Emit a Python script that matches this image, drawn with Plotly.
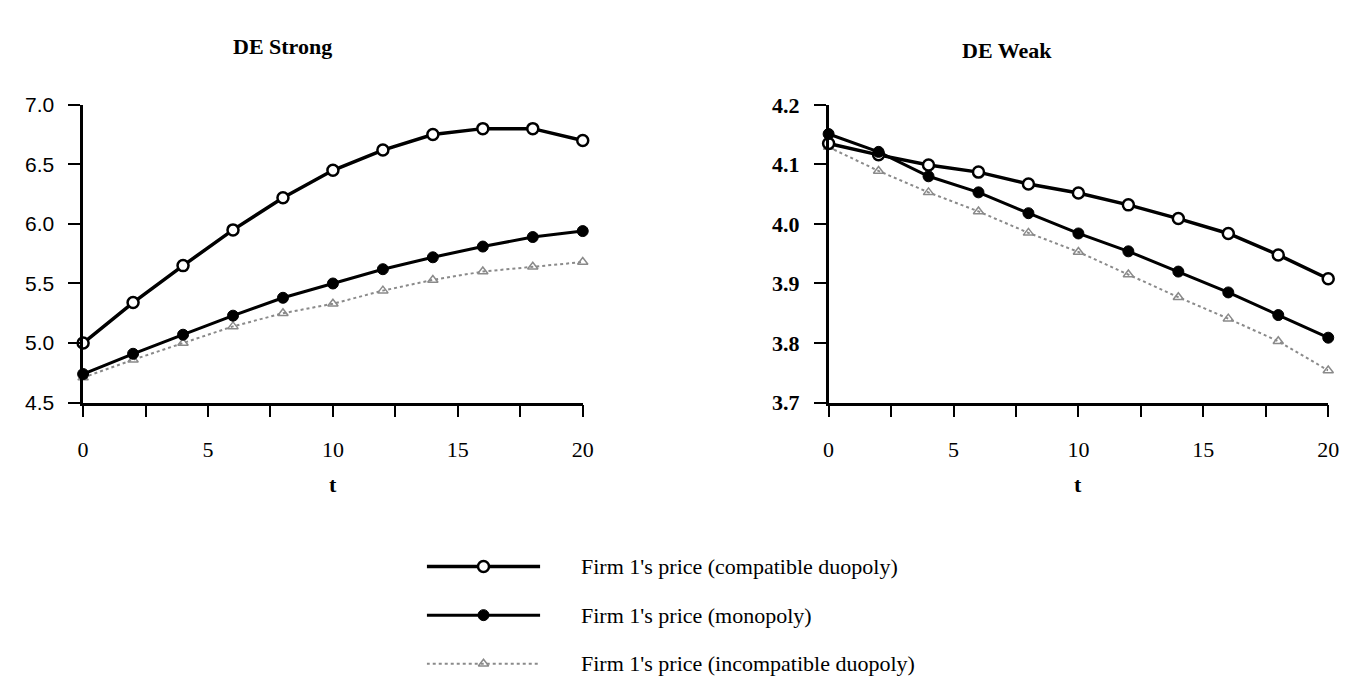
import plotly.graph_objects as go

# ---- data ----
t = [0, 2, 4, 6, 8, 10, 12, 14, 16, 18, 20]

strong_compatible = [5.00, 5.34, 5.65, 5.95, 6.22, 6.45, 6.62, 6.75, 6.80, 6.80, 6.70]
strong_monopoly = [4.74, 4.91, 5.07, 5.23, 5.38, 5.50, 5.62, 5.72, 5.81, 5.89, 5.94]
strong_incompatible = [4.71, 4.86, 5.00, 5.14, 5.25, 5.33, 5.44, 5.53, 5.60, 5.64, 5.68]

weak_compatible = [4.135, 4.116, 4.099, 4.087, 4.067, 4.052, 4.032, 4.009, 3.984, 3.948, 3.908]
weak_monopoly = [4.151, 4.121, 4.080, 4.053, 4.018, 3.984, 3.954, 3.920, 3.885, 3.847, 3.809]
weak_incompatible = [4.129, 4.089, 4.053, 4.021, 3.985, 3.953, 3.915, 3.877, 3.841, 3.803, 3.754]

series_names = [
    "Firm 1's price (compatible duopoly)",
    "Firm 1's price (monopoly)",
    "Firm 1's price (incompatible duopoly)",
]
panel_titles = ["DE Strong", "DE Weak"]
x_tick_vals = [0, 5, 10, 15, 20]
strong_y_ticks = [4.5, 5.0, 5.5, 6.0, 6.5, 7.0]
weak_y_ticks = [3.7, 3.8, 3.9, 4.0, 4.1, 4.2]

# ---- styles ----
SERIF = "Liberation Serif"
GRAY = "#8a8a8a"
styles = [
    dict(line=dict(color="black", width=3.5),
         marker=dict(symbol="circle", size=11, color="white",
                     line=dict(color="black", width=2.5))),
    dict(line=dict(color="black", width=3),
         marker=dict(symbol="circle", size=11, color="black",
                     line=dict(color="black", width=1))),
    dict(line=dict(color=GRAY, width=2, dash="dot"),
         marker=dict(symbol="triangle-up-open", size=9, color=GRAY,
                     line=dict(color=GRAY, width=1.5))),
]

W, H = 1349, 690
def px_x(p):
    return p / W
def px_y(p):
    return 1 - p / H

fig = go.Figure()

strong = [strong_compatible, strong_monopoly, strong_incompatible]
weak = [weak_compatible, weak_monopoly, weak_incompatible]

# draw order: incompatible, compatible, monopoly (filled dots on top)
order = [2, 0, 1]
for i in order:
    fig.add_trace(go.Scatter(x=t, y=strong[i], mode="lines+markers", name=series_names[i],
                             showlegend=False, cliponaxis=False, xaxis="x", yaxis="y",
                             **styles[i]))
for i in order:
    fig.add_trace(go.Scatter(x=t, y=weak[i], mode="lines+markers", name=series_names[i],
                             showlegend=False, cliponaxis=False, xaxis="x2", yaxis="y2",
                             **styles[i]))

# manual legend samples (in a hidden helper axis)
for i in range(3):
    fig.add_trace(go.Scatter(x=[0, 0.5, 1], y=[i, i, i], mode="lines+markers",
                             showlegend=False, hoverinfo="skip", cliponaxis=False,
                             xaxis="x3", yaxis="y3",
                             line=styles[i]["line"],
                             marker=dict(styles[i]["marker"], opacity=[0, 1, 0])))

common_x = dict(range=[0, 20], tickvals=x_tick_vals, ticks="outside", ticklen=12,
                tickwidth=2, tickcolor="black", showline=True, linewidth=2.5,
                linecolor="black", showgrid=False, zeroline=False,
                tickfont=dict(family=SERIF, size=22, color="black"),
                ticklabelstandoff=13,
                minor=dict(dtick=2.5, tick0=0, ticks="outside", ticklen=12,
                           tickwidth=2, tickcolor="black", showgrid=False))
common_y = dict(ticks="outside", ticklen=12, tickwidth=2, tickcolor="black",
                showline=True, linewidth=2.5, linecolor="black", showgrid=False,
                zeroline=False, ticklabelstandoff=10)

ydom = [px_y(397), px_y(88)]
fig.update_layout(
    width=W, height=H, margin=dict(l=0, r=0, t=0, b=0),
    paper_bgcolor="white", plot_bgcolor="white", showlegend=False,
    xaxis=dict(common_x, domain=[px_x(70), px_x(576)], anchor="y"),
    yaxis=dict(common_y, domain=ydom, anchor="x", range=[4.5, 7.0],
               tickvals=strong_y_ticks, ticktext=[f"{v:.1f}" for v in strong_y_ticks],
               tickfont=dict(family="Liberation Sans", size=21, color="black")),
    xaxis2=dict(common_x, domain=[px_x(825), px_x(1331)], anchor="y2"),
    yaxis2=dict(common_y, domain=ydom, anchor="x2", range=[3.7, 4.2],
                tickvals=weak_y_ticks, ticktext=[f"{v:.1f}" for v in weak_y_ticks],
                tickfont=dict(family=SERIF, size=22, color="black", weight="bold")),
    xaxis3=dict(domain=[px_x(418), px_x(533)], range=[0, 1], visible=False,
                anchor="y3", fixedrange=True),
    yaxis3=dict(domain=[px_y(688.2), px_y(546.8)], range=[2.4, -0.4], visible=False,
                anchor="x3", fixedrange=True),
)

annotations = [
    dict(text=f"<b>{panel_titles[0]}</b>", x=px_x(220), y=px_y(27), xref="paper",
         yref="paper", xanchor="left", yanchor="middle", showarrow=False,
         font=dict(family=SERIF, size=22, color="black")),
    dict(text=f"<b>{panel_titles[1]}</b>", x=px_x(958), y=px_y(32), xref="paper",
         yref="paper", xanchor="left", yanchor="middle", showarrow=False,
         font=dict(family=SERIF, size=22, color="black")),
    dict(text="<b>t</b>", x=px_x(323), y=px_y(482), xref="paper", yref="paper",
         xanchor="center", yanchor="middle", showarrow=False,
         font=dict(family=SERIF, size=22, color="black")),
    dict(text="<b>t</b>", x=px_x(1078), y=px_y(482), xref="paper", yref="paper",
         xanchor="center", yanchor="middle", showarrow=False,
         font=dict(family=SERIF, size=22, color="black")),
]
for i, name in enumerate(series_names):
    annotations.append(dict(text=name, x=px_x(572), y=i, xref="paper", yref="y3",
                            xanchor="left", yanchor="middle", showarrow=False,
                            font=dict(family=SERIF, size=22, color="black")))
fig.update_layout(annotations=annotations)

fig.write_html("out.html")
